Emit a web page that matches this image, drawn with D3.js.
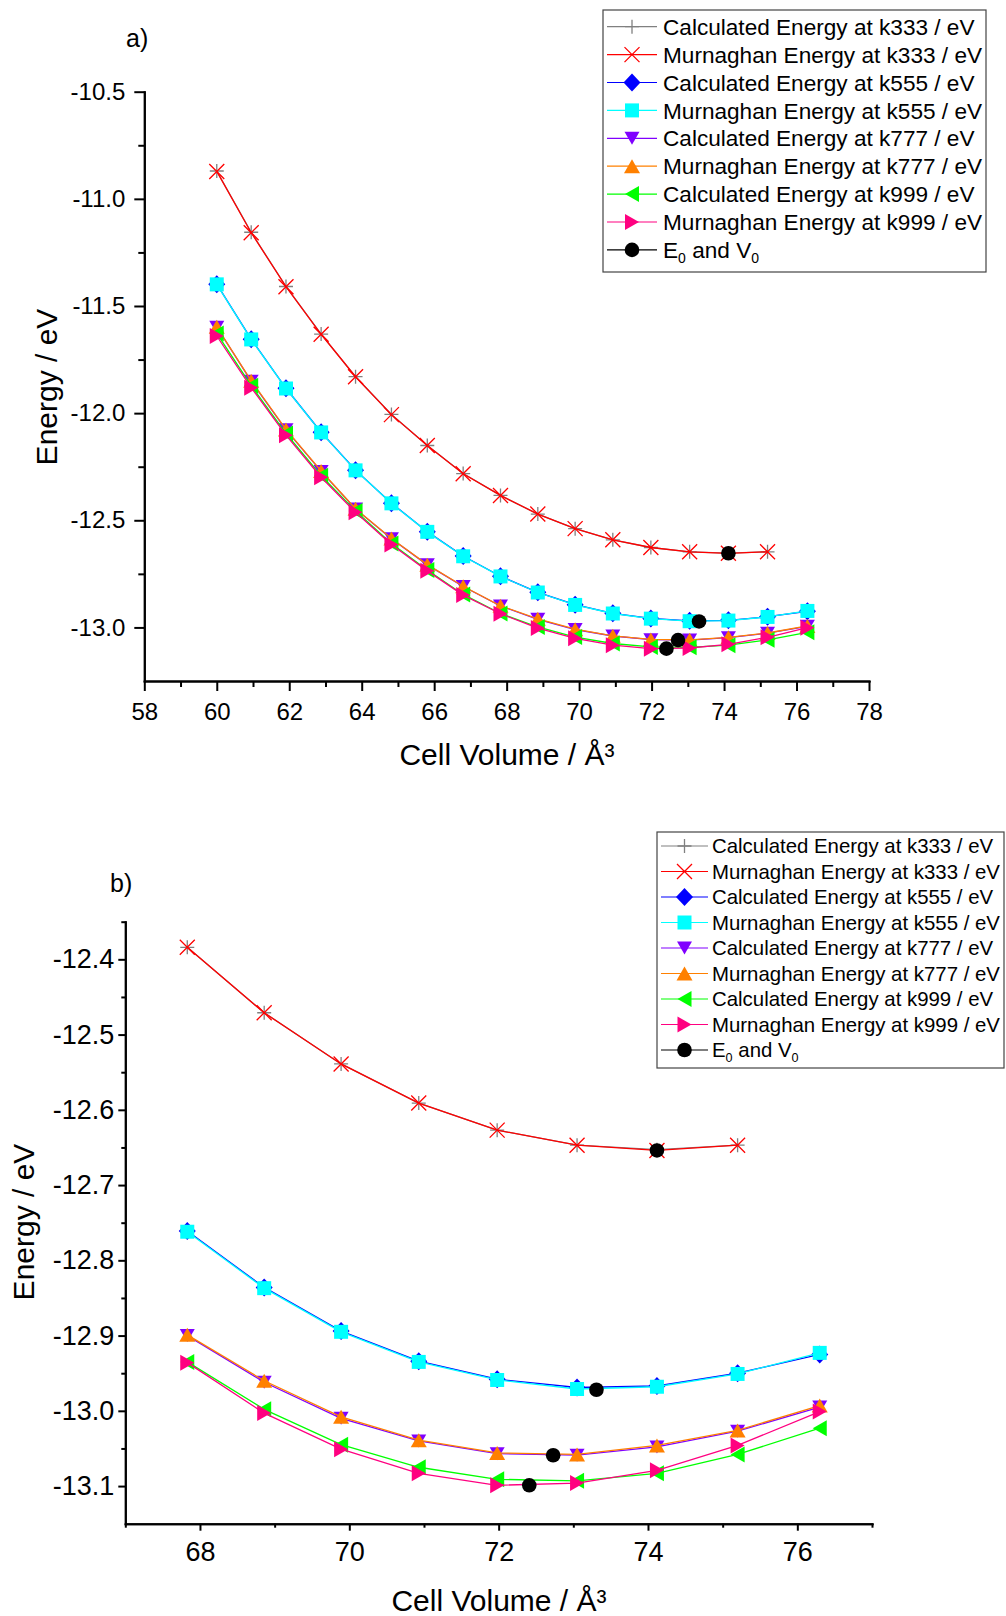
<!DOCTYPE html>
<html>
<head>
<meta charset="utf-8">
<script src="https://cdnjs.cloudflare.com/ajax/libs/d3/7.8.5/d3.min.js"></script>
<style>
body { margin: 0; background: #fff; }
svg { font-family: "Liberation Sans", Arial, sans-serif; }
</style>
</head>
<body>
<svg width="1006" height="1616"></svg>
<script>
// cell volumes (A^3) of the scan; k333 stops one point earlier
var volume333 = [60.0, 60.95, 61.91, 62.88, 63.83, 64.82, 65.81, 66.8, 67.83, 68.86, 69.89, 70.93, 71.98, 73.05, 74.12, 75.2];
var volume = [60.0, 60.95, 61.91, 62.88, 63.83, 64.82, 65.81, 66.8, 67.83, 68.86, 69.89, 70.93, 71.98, 73.05, 74.12, 75.2, 76.3];

var calc333 = [-10.870, -11.156, -11.409, -11.631, -11.830, -12.006, -12.151, -12.282, -12.384, -12.471, -12.539, -12.591, -12.627, -12.647, -12.653, -12.647];
var murn333 = [-10.872, -11.158, -11.410, -11.632, -11.830, -12.007, -12.151, -12.283, -12.384, -12.471, -12.539, -12.591, -12.627, -12.647, -12.654, -12.647];
var calc555 = [-11.398, -11.655, -11.884, -12.089, -12.266, -12.420, -12.553, -12.667, -12.761, -12.836, -12.894, -12.934, -12.958, -12.969, -12.967, -12.950, -12.925];
var murn555 = [-11.399, -11.656, -11.885, -12.090, -12.267, -12.421, -12.554, -12.668, -12.762, -12.837, -12.895, -12.935, -12.959, -12.971, -12.968, -12.951, -12.923];
var calc777 = [-11.599, -11.851, -12.078, -12.272, -12.447, -12.586, -12.708, -12.809, -12.900, -12.962, -13.010, -13.040, -13.057, -13.059, -13.048, -13.027, -12.995];
var murn777 = [-11.597, -11.849, -12.076, -12.270, -12.446, -12.585, -12.707, -12.808, -12.899, -12.960, -13.008, -13.039, -13.056, -13.058, -13.046, -13.026, -12.993];
var calc999 = [-11.628, -11.872, -12.095, -12.292, -12.457, -12.608, -12.732, -12.846, -12.935, -12.998, -13.045, -13.075, -13.091, -13.093, -13.083, -13.058, -13.023];
var murn999 = [-11.640, -11.881, -12.103, -12.299, -12.463, -12.613, -12.736, -12.849, -12.936, -13.003, -13.051, -13.083, -13.099, -13.096, -13.079, -13.046, -13.001];

// fitted minima (k333, k555, k777, k999)
var v0 = [74.12, 73.31, 72.73, 72.41];
var e0 = [-12.654, -12.972, -13.059, -13.099];

var seriesNames = ["Calculated Energy at k333 / eV", "Murnaghan Energy at k333 / eV",
                   "Calculated Energy at k555 / eV", "Murnaghan Energy at k555 / eV",
                   "Calculated Energy at k777 / eV", "Murnaghan Energy at k777 / eV",
                   "Calculated Energy at k999 / eV", "Murnaghan Energy at k999 / eV",
                   "E0 and V0"];

var xTicksA = [58, 60, 62, 64, 66, 68, 70, 72, 74, 76, 78];
var xMinorA = [59, 61, 63, 65, 67, 69, 71, 73, 75, 77];
var yTicksA = [-10.5, -11.0, -11.5, -12.0, -12.5, -13.0];
var yMinorA = [-10.75, -11.25, -11.75, -12.25, -12.75];
var xTicksB = [68, 70, 72, 74, 76];
var xMinorB = [67, 69, 71, 73, 75, 77];
var yTicksB = [-12.4, -12.5, -12.6, -12.7, -12.8, -12.9, -13.0, -13.1];
var yMinorB = [-12.35, -12.45, -12.55, -12.65, -12.75, -12.85, -12.95, -13.05];

var series = [
  {xs: volume333, ys: calc333, color: "#808080", shape: "plus"},
  {xs: volume333, ys: murn333, color: "#ff0000", shape: "cross"},
  {xs: volume, ys: calc555, color: "#0000ff", shape: "diamond"},
  {xs: volume, ys: murn555, color: "#00ffff", shape: "square"},
  {xs: volume, ys: calc777, color: "#8000ff", shape: "down"},
  {xs: volume, ys: murn777, color: "#ff8000", shape: "up"},
  {xs: volume, ys: calc999, color: "#00ff00", shape: "left"},
  {xs: volume, ys: murn999, color: "#ff0080", shape: "right"},
  {xs: v0, ys: e0, color: "#000000", shape: "circle", noLine: true}
];
series.forEach(function(s, i){ s.name = seriesNames[i]; });

function markerPath(shape){
  switch(shape){
    case "plus": return "M-7,0H7M0,-7V7";
    case "cross": return "M-7.5,-7.5L7.5,7.5M-7.5,7.5L7.5,-7.5";
    case "diamond": return "M0,-9L8.5,0L0,9L-8.5,0Z";
    case "square": return "M-7,-7H7V7H-7Z";
    case "down": return "M-7.5,-6.5L7.5,-6.5L0,6.5Z";
    case "up": return "M-8,7L8,7L0,-7Z";
    case "left": return "M-7,0L7,-8L7,8Z";
    case "right": return "M7,0L-7,-8L-7,8Z";
    case "circle": return "M7.3,0A7.3,7.3 0 1,1 -7.3,0A7.3,7.3 0 1,1 7.3,0Z";
  }
}

function addMarker(g, shape, color){
  var stroked = (shape == "plus" || shape == "cross");
  return g.append("path")
    .attr("d", markerPath(shape))
    .attr("fill", stroked ? "none" : color)
    .attr("stroke", stroked ? color : "none")
    .attr("stroke-width", stroked ? 1.3 : 0);
}

var svg = d3.select("svg");

function drawPanel(p){
  var x = d3.scaleLinear().domain(p.xDomain).range([p.left, p.right]);
  var y = d3.scaleLinear().domain(p.yDomain).range([p.bottom, p.top]);
  var g = svg.append("g");

  // data
  var line = d3.line()
      .x(function(d){ return x(d[0]); })
      .y(function(d){ return y(d[1]); });

  series.forEach(function(s){
    var pts = s.xs.map(function(v, i){ return [v, s.ys[i]]; })
      .filter(function(d){ return d[0] >= p.xDomain[0] && d[0] <= p.xDomain[1]; });
    if(!s.noLine){
      g.append("path").datum(pts)
        .attr("d", line)
        .attr("fill", "none")
        .attr("stroke", s.color)
        .attr("stroke-width", 1.3);
    }
    g.selectAll(null).data(pts).enter().append("g")
      .attr("transform", function(d){ return "translate(" + x(d[0]) + "," + y(d[1]) + ")"; })
      .each(function(){ addMarker(d3.select(this), s.shape, s.color); });
  });

  // axes
  var xAxis = g.append("g").attr("transform", "translate(0," + p.bottom + ")")
    .call(d3.axisBottom(x).tickValues(p.xTicks).tickSize(p.major).tickSizeOuter(0)
      .tickPadding(p.xPad).tickFormat(function(d){ return d; }));
  g.append("g").attr("transform", "translate(0," + p.bottom + ")")
    .call(d3.axisBottom(x).tickValues(p.xMinor).tickSize(p.minor).tickSizeOuter(0).tickFormat(""));
  var yAxis = g.append("g").attr("transform", "translate(" + p.left + ",0)")
    .call(d3.axisLeft(y).tickValues(p.yTicks).tickSize(p.major).tickSizeOuter(0)
      .tickPadding(p.yPad).tickFormat(function(d){ return d.toFixed(1); }));
  g.append("g").attr("transform", "translate(" + p.left + ",0)")
    .call(d3.axisLeft(y).tickValues(p.yMinor).tickSize(p.minor).tickSizeOuter(0).tickFormat(""));

  g.selectAll(".domain, .tick line").attr("stroke", "#000").attr("stroke-width", 2);
  g.selectAll(".tick text").attr("fill", "#000")
    .attr("font-family", "Liberation Sans, Arial, sans-serif");
  xAxis.selectAll("text").attr("font-size", p.tickFont);
  yAxis.selectAll("text").attr("font-size", p.tickFont);
  g.selectAll(".domain").attr("stroke-linecap", "square");

  // titles
  g.append("text").attr("x", p.xTitle[0]).attr("y", p.xTitle[1])
    .attr("text-anchor", "middle").attr("font-size", p.titleFont)
    .text("Cell Volume / \u00c5\u00b3");
  g.append("text").attr("transform", "translate(" + p.yTitle[0] + "," + p.yTitle[1] + ") rotate(-90)")
    .attr("text-anchor", "middle").attr("font-size", p.titleFont)
    .text("Energy / eV");
  g.append("text").attr("x", p.label[0]).attr("y", p.label[1])
    .attr("font-size", 25).text(p.id + ")");

  // legend
  var lg = g.append("g");
  lg.append("rect")
    .attr("x", p.legend.x).attr("y", p.legend.y)
    .attr("width", p.legend.w).attr("height", p.legend.h)
    .attr("fill", "#fff").attr("stroke", "#444").attr("stroke-width", 1.2);
  series.forEach(function(s, i){
    var ry = p.legend.row0 + i * p.legend.step;
    lg.append("line")
      .attr("x1", p.legend.x + 4).attr("x2", p.legend.x + 4 + p.legend.lineLen)
      .attr("y1", ry).attr("y2", ry)
      .attr("stroke", s.color).attr("stroke-width", 1.2);
    addMarker(lg.append("g").attr("transform", "translate(" + (p.legend.x + 4 + p.legend.lineLen / 2) + "," + ry + ")"),
      s.shape, s.color);
    var t = lg.append("text")
      .attr("x", p.legend.x + p.legend.textOff).attr("y", ry).attr("dy", "0.36em")
      .attr("font-size", p.legend.font);
    if(s.shape == "circle"){
      t.append("tspan").text("E");
      t.append("tspan").attr("dy", 5).attr("font-size", p.legend.font * 0.62).text("0");
      t.append("tspan").attr("dy", -5).text(" and V");
      t.append("tspan").attr("dy", 5).attr("font-size", p.legend.font * 0.62).text("0");
    } else {
      t.text(s.name);
    }
  });
}

drawPanel({
  id: "a", left: 144.3, right: 869, top: 91.7, bottom: 681,
  xDomain: [58, 78], yDomain: [-13.25, -10.5],
  xTicks: xTicksA, xMinor: xMinorA, yTicks: yTicksA, yMinor: yMinorA,
  major: 10, minor: 6, xPad: 12, yPad: 9, tickFont: 24, titleFont: 30,
  xTitle: [507, 765], yTitle: [57, 387], label: [126, 47],
  legend: {x: 603, y: 10, w: 383, h: 262, row0: 26.7, step: 27.9, lineLen: 50, textOff: 60, font: 22.6}
});

drawPanel({
  id: "b", left: 125.3, right: 872, top: 921.7, bottom: 1523.7,
  xDomain: [67, 77], yDomain: [-13.15, -12.35],
  xTicks: xTicksB, xMinor: xMinorB, yTicks: yTicksB, yMinor: yMinorB,
  major: 7, minor: 4, xPad: 11, yPad: 4, tickFont: 27, titleFont: 30,
  xTitle: [499, 1611], yTitle: [34, 1222], label: [110, 892],
  legend: {x: 657, y: 832, w: 347, h: 236, row0: 846, step: 25.5, lineLen: 47, textOff: 55, font: 20.4}
});
</script>
</body>
</html>
